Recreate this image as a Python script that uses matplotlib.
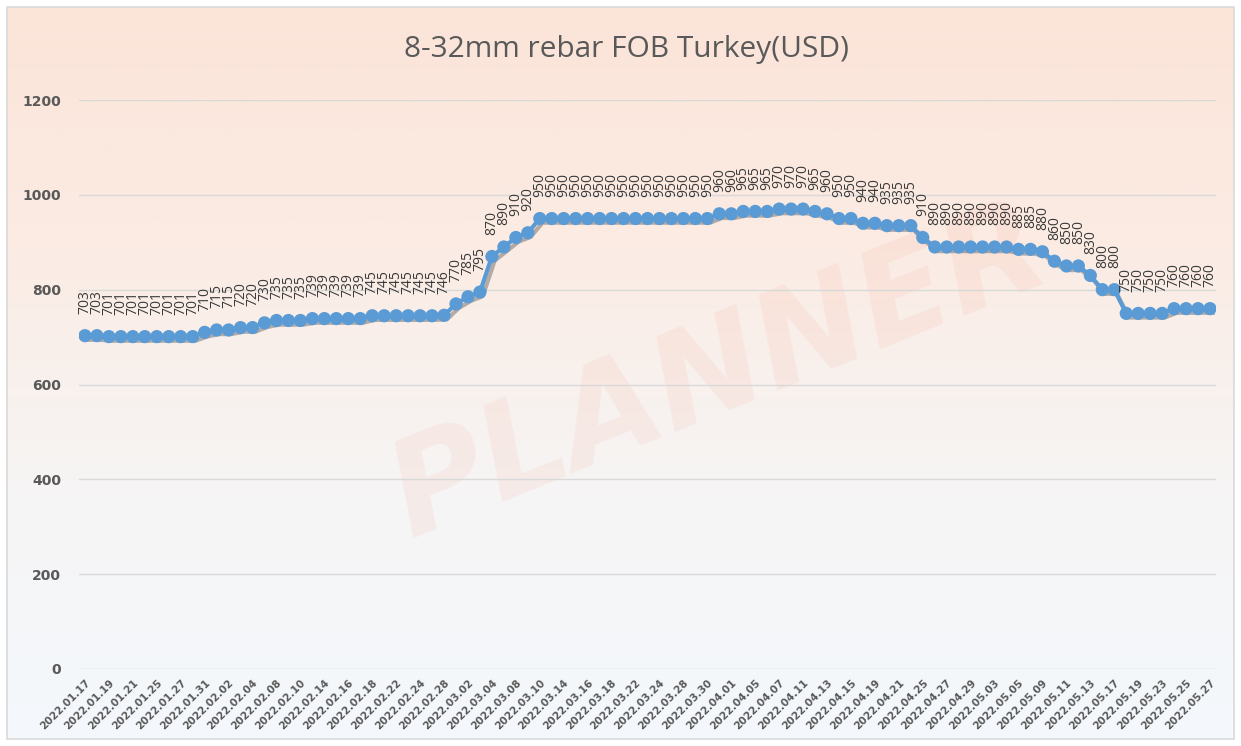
import matplotlib
matplotlib.use("Agg")
import matplotlib.pyplot as plt
import matplotlib.patheffects as pe
from matplotlib.colors import LinearSegmentedColormap
from matplotlib.patches import Rectangle
import numpy as np

# trading days shown on the chart (every other one is labelled on the axis)
dates = ['2022.01.17', '2022.01.18', '2022.01.19', '2022.01.20', '2022.01.21',
         '2022.01.24', '2022.01.25', '2022.01.26', '2022.01.27', '2022.01.28',
         '2022.01.31', '2022.02.01', '2022.02.02', '2022.02.03', '2022.02.04',
         '2022.02.07', '2022.02.08', '2022.02.09', '2022.02.10', '2022.02.11',
         '2022.02.14', '2022.02.15', '2022.02.16', '2022.02.17', '2022.02.18',
         '2022.02.21', '2022.02.22', '2022.02.23', '2022.02.24', '2022.02.25',
         '2022.02.28', '2022.03.01', '2022.03.02', '2022.03.03', '2022.03.04',
         '2022.03.07', '2022.03.08', '2022.03.09', '2022.03.10', '2022.03.11',
         '2022.03.14', '2022.03.15', '2022.03.16', '2022.03.17', '2022.03.18',
         '2022.03.21', '2022.03.22', '2022.03.23', '2022.03.24', '2022.03.25',
         '2022.03.28', '2022.03.29', '2022.03.30', '2022.03.31', '2022.04.01',
         '2022.04.04', '2022.04.05', '2022.04.06', '2022.04.07', '2022.04.08',
         '2022.04.11', '2022.04.12', '2022.04.13', '2022.04.14', '2022.04.15',
         '2022.04.18', '2022.04.19', '2022.04.20', '2022.04.21', '2022.04.22',
         '2022.04.25', '2022.04.26', '2022.04.27', '2022.04.28', '2022.04.29',
         '2022.05.02', '2022.05.03', '2022.05.04', '2022.05.05', '2022.05.06',
         '2022.05.09', '2022.05.10', '2022.05.11', '2022.05.12', '2022.05.13',
         '2022.05.16', '2022.05.17', '2022.05.18', '2022.05.19', '2022.05.20',
         '2022.05.23', '2022.05.24', '2022.05.25', '2022.05.26', '2022.05.27']

prices = [703, 703, 701, 701, 701, 701, 701, 701, 701, 701,
          710, 715, 715, 720, 720, 730, 735, 735, 735, 739,
          739, 739, 739, 739, 745, 745, 745, 745, 745, 745,
          746, 770, 785, 795, 870, 890, 910, 920, 950, 950,
          950, 950, 950, 950, 950, 950, 950, 950, 950, 950,
          950, 950, 950, 960, 960, 965, 965, 965, 970, 970,
          970, 965, 960, 950, 950, 940, 940, 935, 935, 935,
          910, 890, 890, 890, 890, 890, 890, 890, 885, 885,
          880, 860, 850, 850, 830, 800, 800, 750, 750, 750,
          750, 760, 760, 760, 760]

y_ticks = [0, 200, 400, 600, 800, 1000, 1200]
title = '8-32mm rebar FOB Turkey(USD)'

W, H = 1241, 746
fig = plt.figure(figsize=(W / 100, H / 100), dpi=100)
fig.patch.set_facecolor('white')

# chart area background with soft peach -> pale blue gradient
bg = fig.add_axes([7 / W, 7 / H, (W - 14) / W, (H - 14) / H])
grad_cmap = LinearSegmentedColormap.from_list(
    'bg', ['#f4f8fc', '#f6f5f5', '#fbece4', '#fbe4d8'])
bg.imshow(np.linspace(0, 1, 256).reshape(-1, 1), aspect='auto', cmap=grad_cmap,
          origin='lower', extent=[0, 1, 0, 1])
bg.set_xlim(0, 1)
bg.set_ylim(0, 1)
bg.axis('off')
bg.add_patch(Rectangle((0, 0), 1, 1, fill=False, edgecolor='#d9d9d9', lw=1.2,
                       transform=bg.transAxes, clip_on=False))
# faint logo watermark
bg.text(0.58, 0.5, 'PLANNER', fontsize=95, fontweight='bold', fontstyle='italic',
        color='#f07050', alpha=0.08, rotation=22, ha='center', va='center',
        family='DejaVu Sans')

ax = fig.add_axes([79 / W, 77 / H, (1216 - 79) / W, (669 - 100) / H])
ax.set_facecolor('none')
x = np.arange(len(prices))

ax.plot(x, prices, color='#5b9bd5', lw=3, marker='o', markersize=9.5,
        markeredgewidth=0, zorder=3,
        path_effects=[pe.SimpleLineShadow(offset=(2, -3), shadow_color='#303030',
                                          alpha=0.35), pe.Normal()])

for i, v in enumerate(prices):
    ax.annotate(str(v), (i, v), xytext=(0, 15.5), textcoords='offset points',
                rotation=90, ha='center', va='bottom', fontsize=10,
                color='#3a3a3a', family='Open Sans')

ax.set_xlim(-0.5, len(prices) - 0.5)
ax.set_ylim(0, 1200)
ax.set_yticks(y_ticks)
ax.set_yticklabels([str(t) for t in y_ticks], fontsize=10, fontweight='bold',
                   color='#595959')
ax.set_xticks(x[::2])
ax.set_xticklabels(dates[::2], rotation=45, ha='right', rotation_mode='anchor',
                   fontsize=7.5, fontweight='bold', color='#595959')
ax.tick_params(axis='both', length=0)
ax.tick_params(axis='y', pad=13)
ax.tick_params(axis='x', pad=6)
ax.grid(axis='y', color='#d9d9d9', lw=1)
ax.set_axisbelow(True)
for s in ax.spines.values():
    s.set_visible(False)

fig.text(0.505, 1 - 50 / H, title, ha='center', va='center', fontsize=21.5,
         color='#595959', family='Open Sans')

fig.savefig('out.png', dpi=100)
